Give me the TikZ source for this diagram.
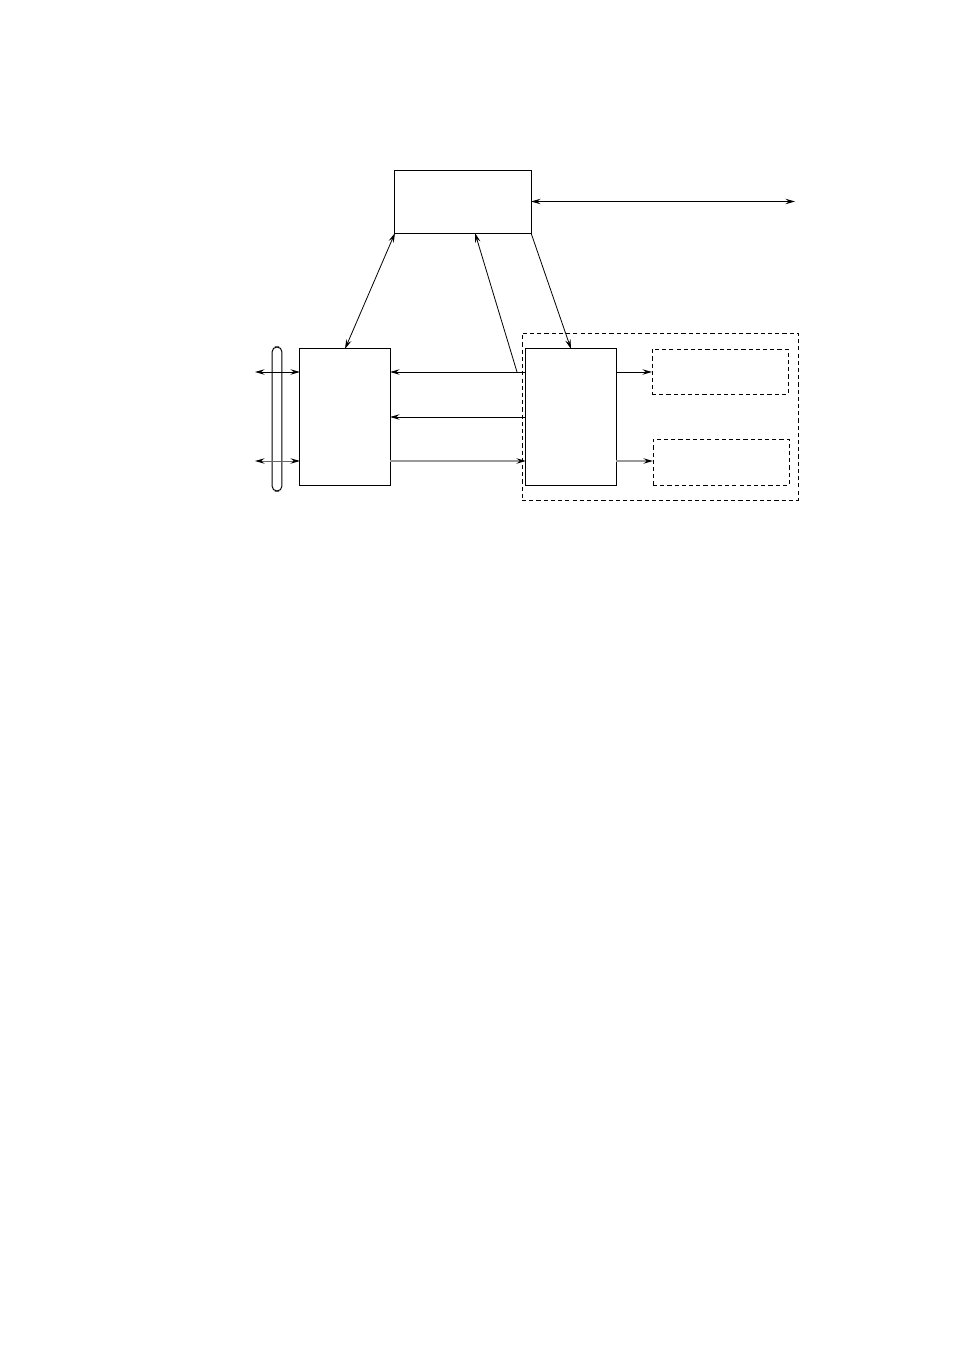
\documentclass[tikz,border=0pt]{standalone}
\usetikzlibrary{arrows.meta}
\begin{document}
\begin{tikzpicture}[x=0.624pt,y=-0.624pt,
	box/.style={draw,line width=0.6pt,inner sep=0pt,outer sep=0pt},
	dbox/.style={box,dash pattern=on 2.6pt off 1.9pt},
	arr/.style={line width=0.5pt,-{Stealth[length=6pt,width=3.4pt,inset=2.2pt,color=black]}},
	darr/.style={line width=0.5pt,{Stealth[length=6pt,width=3.4pt,inset=2.2pt,color=black]}-{Stealth[length=6pt,width=3.4pt,inset=2.2pt,color=black]}},
	faint/.style={draw=black!40,line width=0.7pt}]
	\useasboundingbox (0,0) rectangle (954,1350);
	% Boxes
	\node[box,minimum width=84.9pt,minimum height=39.3pt] (top) at (463,201.5) {};
	\node[box,minimum width=56.2pt,minimum height=84.9pt] (left) at (345,417) {};
	\node[dbox,minimum width=172.2pt,minimum height=104.2pt] (group) at (660,416.5) {};
	\node[box,minimum width=56.2pt,minimum height=84.9pt] (mid) at (571,417) {};
	\node[dbox,minimum width=84.9pt,minimum height=28.1pt] (outa) at (720,371.5) {};
	\node[dbox,minimum width=84.9pt,minimum height=28.7pt] (outb) at (721,462) {};
	\node[box,minimum width=6.2pt,minimum height=89.9pt,rounded corners=3.1pt] (bus) at (277,419) {};
	% Rows
	\coordinate (r1) at (0,372);
	\coordinate (r3) at (0,461);
	\coordinate (ext) at (795,201.5);
	\coordinate (inl1) at (255,372);
	\coordinate (inl3) at (255,461);
	\coordinate (jn) at (517,372);
	\coordinate (topin) at (475,233);
	% Connectors
	\draw[darr] (top.east) -- (ext);
	\draw[darr] (top.south west) -- (left.north);
	\draw[arr] (top.south east) -- (mid.north);
	\draw[arr] (jn) -- (topin);
	\draw[arr] (mid.west |- r1) -- (left.east |- r1);
	\draw[arr] (mid.west) -- (left.east);
	\draw[arr,faint] (left.east |- r3) -- (mid.west |- r3);
	\draw[arr] (mid.east |- r1) -- (outa.west |- r1);
	\draw[arr,faint] (mid.east |- r3) -- (outb.west |- r3);
	\draw[darr] (inl1) -- (left.west |- r1);
	\draw[darr,draw=black!60] (inl3) -- (left.west |- r3);
\end{tikzpicture}
\end{document}
